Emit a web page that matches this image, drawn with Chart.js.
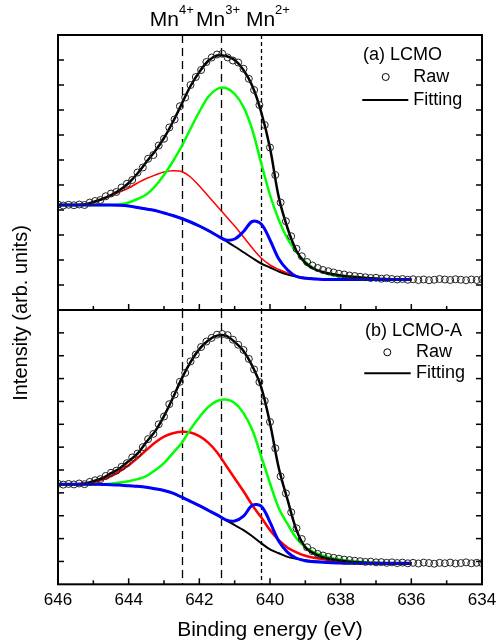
<!DOCTYPE html>
<html>
<head>
<meta charset="utf-8">
<script src="https://cdn.jsdelivr.net/npm/chart.js@4.4.1/dist/chart.umd.min.js"></script>
<style>
  html, body { margin: 0; padding: 0; background: #fff; }
  #wrap { position: relative; width: 496px; height: 644px; }
  #wrap canvas { position: absolute; left: 0; top: 0; }
</style>
</head>
<body>
<div id="wrap">
  <canvas id="topChart" width="496" height="644"></canvas>
  <canvas id="botChart" width="496" height="644"></canvas>
</div>
<script>
// energies (eV) of the fitted curves and of the measured points
const fitEnergy = [646, 645.75, 645.5, 645.25, 645, 644.75, 644.5, 644.25, 644, 643.75,
  643.5, 643.25, 643, 642.75, 642.5, 642.25, 642, 641.75, 641.5, 641.25,
  641, 640.75, 640.5, 640.25, 640, 639.75, 639.5, 639.25, 639, 638.75,
  638.5, 638.25, 638, 637.75, 637.5, 637.25, 637, 636.75, 636.5, 636.25, 636];
const rawEnergy = [646, 645.85, 645.7, 645.55, 645.4, 645.25, 645.1, 644.95, 644.8, 644.65,
  644.5, 644.35, 644.2, 644.05, 643.9, 643.75, 643.6, 643.45, 643.3, 643.15,
  643, 642.85, 642.7, 642.55, 642.4, 642.25, 642.1, 641.95, 641.8, 641.65,
  641.5, 641.35, 641.2, 641.05, 640.9, 640.75, 640.6, 640.45, 640.3, 640.15,
  640, 639.85, 639.7, 639.55, 639.4, 639.25, 639.1, 638.95, 638.8, 638.65,
  638.5, 638.35, 638.2, 638.05, 637.9, 637.75, 637.6, 637.45, 637.3, 637.15,
  637, 636.85, 636.7, 636.55, 636.4, 636.25, 636.1, 635.95, 635.8, 635.65,
  635.5, 635.35, 635.2, 635.05, 634.9, 634.75, 634.6, 634.45, 634.3, 634.15, 634];

// (a) LCMO
const rawA = [4.22, 4.18, 4.21, 4.19, 4.22, 4.20, 4.30, 4.36, 4.40, 4.55,
  4.66, 4.72, 4.90, 5.05, 5.20, 5.50, 5.70, 6.05, 6.20, 6.58,
  6.85, 7.30, 7.62, 8.15, 8.50, 9.00, 9.32, 9.60, 9.92, 10.10,
  10.22, 10.25, 10.10, 9.98, 9.90, 9.65, 9.25, 8.80, 8.20, 7.40,
  6.50, 5.40, 4.30, 3.55, 2.95, 2.45, 2.15, 1.92, 1.78, 1.68,
  1.60, 1.55, 1.50, 1.45, 1.42, 1.38, 1.36, 1.33, 1.31, 1.28,
  1.29, 1.25, 1.27, 1.24, 1.22, 1.24, 1.21, 1.23, 1.20, 1.22,
  1.19, 1.21, 1.24, 1.22, 1.20, 1.23, 1.21, 1.19, 1.22, 1.20, 1.23];
const fitA = [4.20, 4.20, 4.20, 4.22, 4.32, 4.44, 4.60, 4.80, 5.08, 5.46,
  5.92, 6.36, 6.88, 7.52, 8.24, 8.96, 9.52, 9.96, 10.18, 10.16,
  10.00, 9.60, 8.96, 7.92, 6.48, 4.50, 3.26, 2.36, 1.88, 1.64,
  1.52, 1.44, 1.38, 1.34, 1.31, 1.28, 1.26, 1.24, 1.23, 1.22, 1.21];
const bgA = [4.20, 4.20, 4.20, 4.20, 4.20, 4.20, 4.20, 4.19, 4.16, 4.10,
  4.04, 3.98, 3.88, 3.78, 3.66, 3.52, 3.36, 3.18, 2.98, 2.76,
  2.54, 2.31, 2.08, 1.86, 1.70, 1.54, 1.42, 1.34, 1.28, 1.25,
  1.23, 1.22, 1.22, 1.22, 1.22, 1.22, 1.22, 1.22, 1.22, 1.22, 1.22];
const mn4A = [4.20, 4.20, 4.20, 4.22, 4.30, 4.42, 4.56, 4.72, 4.88, 5.08,
  5.26, 5.40, 5.52, 5.57, 5.54, 5.32, 4.96, 4.56, 4.16, 3.76,
  3.36, 2.92, 2.48, 2.08, 1.80, 1.62, 1.48, 1.36, 1.30, 1.25,
  1.23, 1.22, 1.22, 1.22, 1.22, 1.22, 1.22, 1.22, 1.22, 1.22, 1.22];
const mn3A = [4.20, 4.20, 4.20, 4.20, 4.20, 4.20, 4.20, 4.22, 4.30, 4.44,
  4.62, 4.95, 5.40, 5.94, 6.55, 7.25, 7.93, 8.52, 8.84, 8.88,
  8.64, 8.12, 7.20, 5.88, 4.60, 3.60, 2.84, 2.32, 1.92, 1.66,
  1.50, 1.40, 1.34, 1.30, 1.27, 1.25, 1.23, 1.22, 1.22, 1.22, 1.22];
const mn2A = [4.20, 4.20, 4.20, 4.20, 4.20, 4.20, 4.20, 4.19, 4.16, 4.10,
  4.04, 3.98, 3.88, 3.78, 3.66, 3.52, 3.36, 3.18, 2.98, 2.80,
  2.84, 3.14, 3.54, 3.44, 2.80, 2.04, 1.60, 1.34, 1.27, 1.24,
  1.22, 1.22, 1.22, 1.22, 1.22, 1.22, 1.22, 1.22, 1.22, 1.22, 1.22];

// (b) LCMO-A
const rawB = [4.40, 4.36, 4.39, 4.37, 4.41, 4.38, 4.48, 4.55, 4.60, 4.74,
  4.88, 4.97, 5.14, 5.30, 5.55, 5.72, 6.00, 6.35, 6.58, 7.00,
  7.34, 7.88, 8.30, 8.86, 9.25, 9.75, 10.05, 10.38, 10.62, 10.78,
  10.92, 10.95, 10.90, 10.70, 10.48, 10.25, 9.86, 9.40, 8.85, 8.02,
  7.10, 5.95, 4.72, 3.98, 3.15, 2.45, 1.98, 1.62, 1.45, 1.33,
  1.26, 1.20, 1.16, 1.12, 1.08, 1.06, 1.03, 1.01, 0.98, 0.99,
  0.96, 0.97, 0.94, 0.96, 0.93, 0.95, 0.92, 0.94, 0.91, 0.95,
  0.93, 0.90, 0.94, 0.92, 0.95, 0.91, 0.93, 0.96, 0.92, 0.94, 0.93];
const fitB = [4.38, 4.38, 4.38, 4.40, 4.51, 4.64, 4.86, 5.08, 5.39, 5.72,
  6.22, 6.70, 7.36, 8.15, 9.00, 9.72, 10.29, 10.67, 10.88, 10.88,
  10.60, 10.21, 9.55, 8.63, 7.05, 5.08, 3.68, 2.37, 1.62, 1.34,
  1.18, 1.10, 1.03, 0.99, 0.96, 0.93, 0.92, 0.91, 0.91, 0.90, 0.90];
const bgB = [4.38, 4.38, 4.38, 4.38, 4.38, 4.37, 4.36, 4.34, 4.31, 4.29,
  4.25, 4.18, 4.10, 3.99, 3.81, 3.63, 3.44, 3.24, 3.04, 2.81,
  2.59, 2.37, 2.10, 1.80, 1.53, 1.36, 1.20, 1.12, 1.05, 1.01,
  0.97, 0.95, 0.93, 0.92, 0.92, 0.92, 0.92, 0.92, 0.92, 0.92, 0.92];
const mn4B = [4.38, 4.38, 4.38, 4.40, 4.47, 4.58, 4.73, 4.95, 5.21, 5.52,
  5.87, 6.20, 6.46, 6.61, 6.67, 6.64, 6.48, 6.20, 5.78, 5.21,
  4.64, 4.07, 3.46, 2.93, 2.37, 1.93, 1.60, 1.40, 1.25, 1.16,
  1.10, 1.05, 1.02, 0.99, 0.96, 0.94, 0.93, 0.92, 0.92, 0.92, 0.92];
const mn3B = [4.38, 4.38, 4.38, 4.38, 4.38, 4.38, 4.40, 4.45, 4.51, 4.60,
  4.73, 4.99, 5.30, 5.74, 6.18, 6.79, 7.31, 7.75, 8.02, 8.08,
  7.93, 7.49, 6.75, 5.61, 4.42, 3.33, 2.63, 2.01, 1.62, 1.40,
  1.25, 1.14, 1.07, 1.03, 0.99, 0.96, 0.94, 0.92, 0.92, 0.92, 0.92];
const mn2B = [4.38, 4.38, 4.38, 4.38, 4.38, 4.37, 4.36, 4.34, 4.31, 4.29,
  4.25, 4.18, 4.10, 3.99, 3.81, 3.63, 3.44, 3.24, 3.04, 2.82,
  2.77, 2.98, 3.46, 3.42, 2.72, 1.88, 1.40, 1.14, 1.03, 0.99,
  0.96, 0.94, 0.93, 0.92, 0.92, 0.92, 0.92, 0.92, 0.92, 0.92, 0.92];

// Mn valence positions (eV) marked by dashed lines
const markerLines = [642.5, 641.4, 640.25];
const markerLabels = [['Mn', '4+'], ['Mn', '3+'], ['Mn', '2+']];
const markerLabelAt = [642.78, 641.47, 640.06];
const xTicks = [646, 644, 642, 640, 638, 636, 634];

const FONT = '"Liberation Sans", Arial, Helvetica, sans-serif';

const pts = (xs, ys) => xs.map((x, i) => ({ x, y: ys[i] }));

function panelDatasets(raw, fit, bg, mn4, mn3, mn2, redWidth) {
  const curve = (label, data, color, width, order) => ({
    label, data: pts(fitEnergy, data), borderColor: color, borderWidth: width,
    pointRadius: 0, tension: 0.35, fill: false, order,
  });
  return [
    {
      label: 'Raw', data: pts(rawEnergy, raw), showLine: false,
      pointRadius: 3.5, pointBorderWidth: 1, pointBorderColor: '#222',
      pointBackgroundColor: 'rgba(0,0,0,0)', order: 0,
    },
    curve('Mn2+', mn2, '#0000ff', 3, 1),
    curve('Fitting', fit, '#000000', 2.5, 2),
    curve('Mn3+', mn3, '#00ff00', 2.5, 3),
    curve('Mn4+', mn4, '#ff0000', redWidth, 4),
    curve('Background', bg, '#000000', 2, 5),
  ];
}

function strokeLine(ctx, x0, y0, x1, y1) {
  ctx.beginPath();
  ctx.moveTo(x0, y0);
  ctx.lineTo(x1, y1);
  ctx.stroke();
}

const panelDecor = {
  id: 'panelDecor',
  beforeDatasetsDraw(chart) {
    const { ctx, chartArea: a, scales: { x } } = chart;
    ctx.save();
    ctx.strokeStyle = '#000';
    ctx.lineWidth = 1.3;
    markerLines.forEach((e, i) => {
      const px = Math.round(x.getPixelForValue(e)) + 0.5;
      ctx.setLineDash(i === 2 ? [4, 3] : [8, 5]);
      strokeLine(ctx, px, a.top, px, a.bottom);
    });
    ctx.restore();
  },
  afterDraw(chart, args, opts) {
    const { ctx, chartArea: a, scales: { x, y } } = chart;
    ctx.save();
    ctx.strokeStyle = '#000';
    ctx.fillStyle = '#000';

    // inward ticks
    ctx.lineWidth = 1.5;
    for (let v = 1; v < y.max; v++) {
      const py = y.getPixelForValue(v);
      strokeLine(ctx, a.left, py, a.left + 6, py);
      strokeLine(ctx, a.right, py, a.right - 6, py);
    }
    for (let v = x.min; v <= x.max; v++) {
      const px = x.getPixelForValue(v);
      strokeLine(ctx, px, a.bottom, px, a.bottom - (v % 2 === 0 ? 6 : 4));
    }

    // frame
    ctx.lineWidth = 2;
    ctx.strokeRect(a.left, a.top, a.right - a.left, a.bottom - a.top);

    // legend
    const L = opts.legend;
    ctx.font = '18px ' + FONT;
    ctx.textBaseline = 'middle';
    ctx.textAlign = 'left';
    ctx.fillText(L.title, a.right - L.titleDx, a.top + L.rows[0]);
    ctx.lineWidth = 1;
    ctx.beginPath();
    ctx.arc(a.right - L.markDx, a.top + L.rows[1], 3.5, 0, Math.PI * 2);
    ctx.stroke();
    ctx.fillText('Raw', a.right - L.textDx, a.top + L.rows[1]);
    ctx.lineWidth = 2;
    strokeLine(ctx, a.right - L.line[0], a.top + L.rows[2], a.right - L.line[1], a.top + L.rows[2]);
    ctx.fillText('Fitting', a.right - L.textDx, a.top + L.rows[2]);

    // Mn valence labels above the top panel
    if (opts.peakLabels) {
      ctx.textBaseline = 'alphabetic';
      markerLabels.forEach(([base, sup], i) => {
        const cx = x.getPixelForValue(markerLabelAt[i]);
        ctx.font = '21px ' + FONT;
        const w1 = ctx.measureText(base).width;
        ctx.font = '13px ' + FONT;
        const w2 = ctx.measureText(sup).width;
        const left = cx - (w1 + w2) / 2;
        ctx.font = '21px ' + FONT;
        ctx.fillText(base, left, a.top - 9);
        ctx.font = '13px ' + FONT;
        ctx.fillText(sup, left + w1, a.top - 21);
      });
    }

    // shared y title
    if (opts.yTitle) {
      ctx.font = '20px ' + FONT;
      ctx.textAlign = 'center';
      ctx.textBaseline = 'middle';
      ctx.translate(21, 313);
      ctx.rotate(-Math.PI / 2);
      ctx.fillText(opts.yTitle, 0, 0);
    }
    ctx.restore();
  }
};

const baseOptions = (padding, yMax, showX, decor) => ({
  responsive: false,
  animation: false,
  devicePixelRatio: 1,
  layout: { padding },
  plugins: { legend: { display: false }, tooltip: { enabled: false }, panelDecor: decor },
  scales: {
    x: {
      type: 'linear', min: 634, max: 646, reverse: true, display: showX,
      grid: { display: false, drawTicks: false },
      border: { display: false },
      afterBuildTicks: (axis) => { axis.ticks = xTicks.map(v => ({ value: v })); },
      afterFit: (axis) => { axis.paddingLeft = 0; axis.paddingRight = 0; },
      ticks: { padding: 3, color: '#000', font: { family: FONT, size: 17, lineHeight: 1.5 } },
      title: {
        display: true, text: 'Binding energy (eV)', color: '#000',
        font: { family: FONT, size: 21 }, padding: { top: 2, bottom: 0 },
      },
    },
    y: { type: 'linear', min: 0, max: yMax, display: false },
  },
});

new Chart(document.getElementById('topChart'), {
  type: 'line',
  data: { datasets: panelDatasets(rawA, fitA, bgA, mn4A, mn3A, mn2A, 1.5) },
  options: baseOptions({ left: 58, right: 14, top: 35, bottom: 334 }, 11, false, {
    peakLabels: true,
    legend: { title: '(a) LCMO', titleDx: 119, markDx: 96.3, textDx: 68.7, line: [119.7, 73.7], rows: [20, 42, 65] },
  }),
  plugins: [panelDecor],
});

new Chart(document.getElementById('botChart'), {
  type: 'line',
  data: { datasets: panelDatasets(rawB, fitB, bgB, mn4B, mn3B, mn2B, 2.5) },
  options: baseOptions({ left: 58, right: 14, top: 310, bottom: 1 }, 12, true, {
    yTitle: 'Intensity (arb. units)',
    legend: { title: '(b) LCMO-A', titleDx: 117, markDx: 94.7, textDx: 66, line: [117.7, 71.3], rows: [20.7, 42.3, 63.3] },
  }),
  plugins: [panelDecor],
});
</script>
</body>
</html>
